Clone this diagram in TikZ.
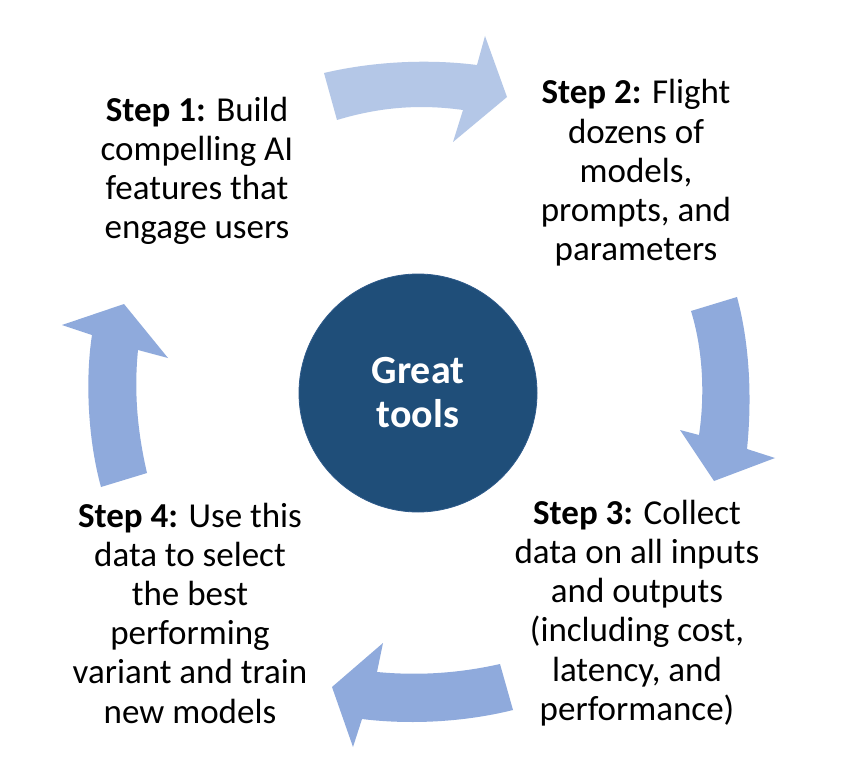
\documentclass[tikz,border=0pt]{standalone}
\usepackage{fontspec}
\setmainfont{Carlito}
\definecolor{arrowlight}{HTML}{B4C7E7}
\definecolor{arrowmid}{HTML}{8FAADC}
\definecolor{hub}{HTML}{1F4E79}
\definecolor{hubedge}{HTML}{2E5A8A}
\tikzset{
  steptext/.style={align=center, font=\fontsize{35}{39.2}\selectfont, text=black, inner sep=0pt},
  hubtext/.style={align=center, font=\fontsize{40}{44}\selectfont\bfseries, text=white, inner sep=0pt},
}
\begin{document}
\begin{tikzpicture}[x=1pt,y=-1pt]
\useasboundingbox (0,0) rectangle (846,778);
\fill[white] (0,0) rectangle (846,778);
% hub
\node[circle, fill=hub, draw=hubedge, line width=0.8pt, minimum size=238pt, inner sep=0pt] (hub) at (418,393) {};
\node[hubtext] (hublabel) at (418,393) {Great\\tools};
% arrows
\fill[arrowlight] (324,73) .. controls (375,61) and (430,59) .. (477,65) -- (485,36) -- (507,97) -- (453,142) -- (463,110) .. controls (420,104) and (380,107) .. (337,120) -- cycle;
\fill[arrowmid] (737,297) .. controls (750,345) and (752,400) .. (747,449) -- (775,458) -- (714,481) -- (680,430) -- (699,435) .. controls (705,395) and (703,350) .. (691,311) -- cycle;
\fill[arrowmid] (500,664) -- (513,710) .. controls (465,722) and (410,725) .. (362,719) -- (353,747) -- (332,687) -- (383,643) -- (377,672) .. controls (420,676) and (460,673) .. (500,664) -- cycle;
\fill[arrowmid] (101,487) -- (147,473) .. controls (137,430) and (134,390) .. (138,350) -- (168,358) -- (124,304) -- (62,325) -- (92,335) .. controls (85,380) and (88,440) .. (101,487) -- cycle;
% texts
\node[steptext] (s1) at (197,171) {\textbf{Step 1:} Build\\compelling AI\\features that\\engage users};
\node[steptext] (s2) at (636,173) {\textbf{Step 2:} Flight\\dozens of\\models,\\prompts, and\\parameters};
\node[steptext] (s3) at (637,613) {\textbf{Step 3:} Collect\\data on all inputs\\and outputs\\(including cost,\\latency, and\\performance)};
\node[steptext] (s4) at (190,613) {\textbf{Step 4:} Use this\\data to select\\the best\\performing\\variant and train\\new models};
\end{tikzpicture}
\end{document}
